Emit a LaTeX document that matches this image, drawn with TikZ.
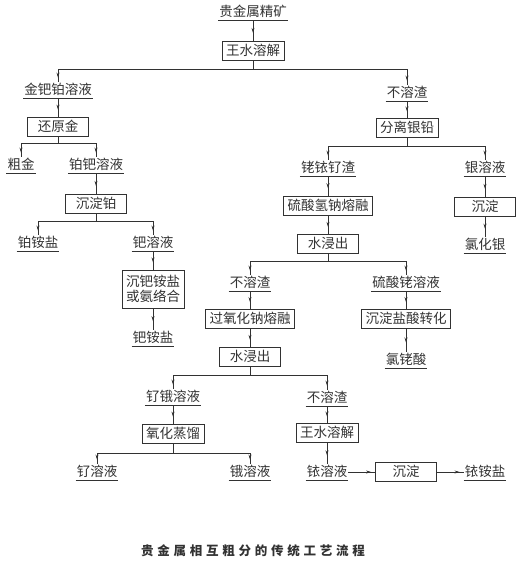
\documentclass[tikz,border=0pt]{standalone}
\usepackage{fontspec}
\setmainfont{Noto Sans CJK SC}
\newfontfamily\capfont{Noto Sans CJK SC}[LetterSpace=30]
\usetikzlibrary{arrows.meta,decorations.markings}
\definecolor{ink}{RGB}{50,50,50}

\begin{document}
\begin{tikzpicture}[x=1pt, y=-1pt, font=\fontsize{13.5}{15}\selectfont, text=ink,
  main/.style = {draw=ink, line width=0.8pt, inner xsep=4pt, inner ysep=0pt,
    minimum width=61pt, minimum height=19pt, text height=11pt, text depth=2.5pt},
  prod/.style = {inner xsep=1pt, inner ysep=1.5pt, text height=11pt, text depth=2.5pt,
    append after command={(\tikzlastnode.south west) edge[draw=ink, line width=0.9pt] (\tikzlastnode.south east)}},
  go/.style = {draw=ink, line width=0.7pt, postaction={decorate},
    decoration={markings, mark=at position #1 with {\arrow{Stealth[length=5pt,width=3pt]}}}},
  go/.default = 0.6]
\useasboundingbox (0,0) rectangle (521,562);

\node[prod] (1) at (253,12) {贵金属精矿};
\node[main] (2) at (253,51) {王水溶解};
\node[prod] (3) at (58,90) {金钯铂溶液};
\node[prod] (4) at (407,93) {不溶渣};
\node[main] (5) at (58,127) {还原金};
\node[prod] (6) at (21,165) {粗金};
\node[prod] (7) at (96,165) {铂钯溶液};
\node[main] (8) at (407,128) {分离银铅};
\node[prod] (9) at (328,168) {铑铱钌渣};
\node[prod] (10) at (485,168) {银溶液};
\node[main] (11) at (96,204) {沉淀铂};
\node[main] (12) at (328,206) {硫酸氢钠熔融};
\node[main] (13) at (485,207) {沉淀};
\node[prod] (14) at (38,243) {铂铵盐};
\node[prod] (15) at (153,243) {钯溶液};
\node[main] (16) at (328,244) {水浸出};
\node[prod] (17) at (485,245) {氯化银};
\node[main, align=center, text height=, text depth=, minimum height=38pt] (18) at (153,289) {沉钯铵盐\\或氨络合};
\node[prod] (19) at (250,283) {不溶渣};
\node[prod] (20) at (406,283) {硫酸铑溶液};
\node[main] (21) at (250,319) {过氧化钠熔融};
\node[main] (22) at (406,319) {沉淀盐酸转化};
\node[prod] (23) at (153,338) {钯铵盐};
\node[main] (24) at (250,357) {水浸出};
\node[prod] (25) at (406,360) {氯铑酸};
\node[prod] (26) at (173,397) {钌锇溶液};
\node[prod] (27) at (327,398) {不溶渣};
\node[main] (28) at (173,434) {氧化蒸馏};
\node[main] (29) at (327,433) {王水溶解};
\node[prod] (30) at (97,472) {钌溶液};
\node[prod] (31) at (250,472) {锇溶液};
\node[prod] (32) at (327,472) {铱溶液};
\node[main] (33) at (406,472) {沉淀};
\node[prod] (34) at (485,472) {铱铵盐};
\node[font=\capfont\bfseries\fontsize{12.5}{14}\selectfont] (35) at (253,551) {贵金属相互粗分的传统工艺流程};

\draw[go] (1) -- (2);
\draw[go=-4pt] (2.south) -- ++(0,8) -| (3);
\draw[go=-4pt] (2.south) -- ++(0,8) -| (4);
\draw[go] (3) -- (5);
\draw[go=-4pt] (5.south) -- ++(0,6) -| (6);
\draw[go=-4pt] (5.south) -- ++(0,6) -| (7);
\draw[go] (4) -- (8);
\draw[go=-4pt] (8.south) -- ++(0,8) -| (9);
\draw[go=-4pt] (8.south) -- ++(0,8) -| (10);
\draw[go] (7) -- (11);
\draw[go] (9) -- (12);
\draw[go] (10) -- (13);
\draw[go=-4pt] (11.south) -- ++(0,7) -| (14);
\draw[go=-4pt] (11.south) -- ++(0,7) -| (15);
\draw[go] (12) -- (16);
\draw[go] (13) -- (17);
\draw[go] (15) -- (18);
\draw[go=-4pt] (16.south) -- ++(0,7) -| (19);
\draw[go=-4pt] (16.south) -- ++(0,7) -| (20);
\draw[go] (18) -- (23);
\draw[go] (19) -- (21);
\draw[go] (20) -- (22);
\draw[go] (21) -- (24);
\draw[go] (22) -- (25);
\draw[go=-4pt] (24.south) -- ++(0,8) -| (26);
\draw[go=-4pt] (24.south) -- ++(0,8) -| (27);
\draw[go] (26) -- (28);
\draw[go] (27) -- (29);
\draw[go=-4pt] (28.south) -- ++(0,9) -| (30);
\draw[go=-4pt] (28.south) -- ++(0,9) -| (31);
\draw[go] (29) -- (32);
\draw[go=-4pt] (32) -- (33);
\draw[go=-4pt] (33) -- (34);

\end{tikzpicture}
\end{document}
